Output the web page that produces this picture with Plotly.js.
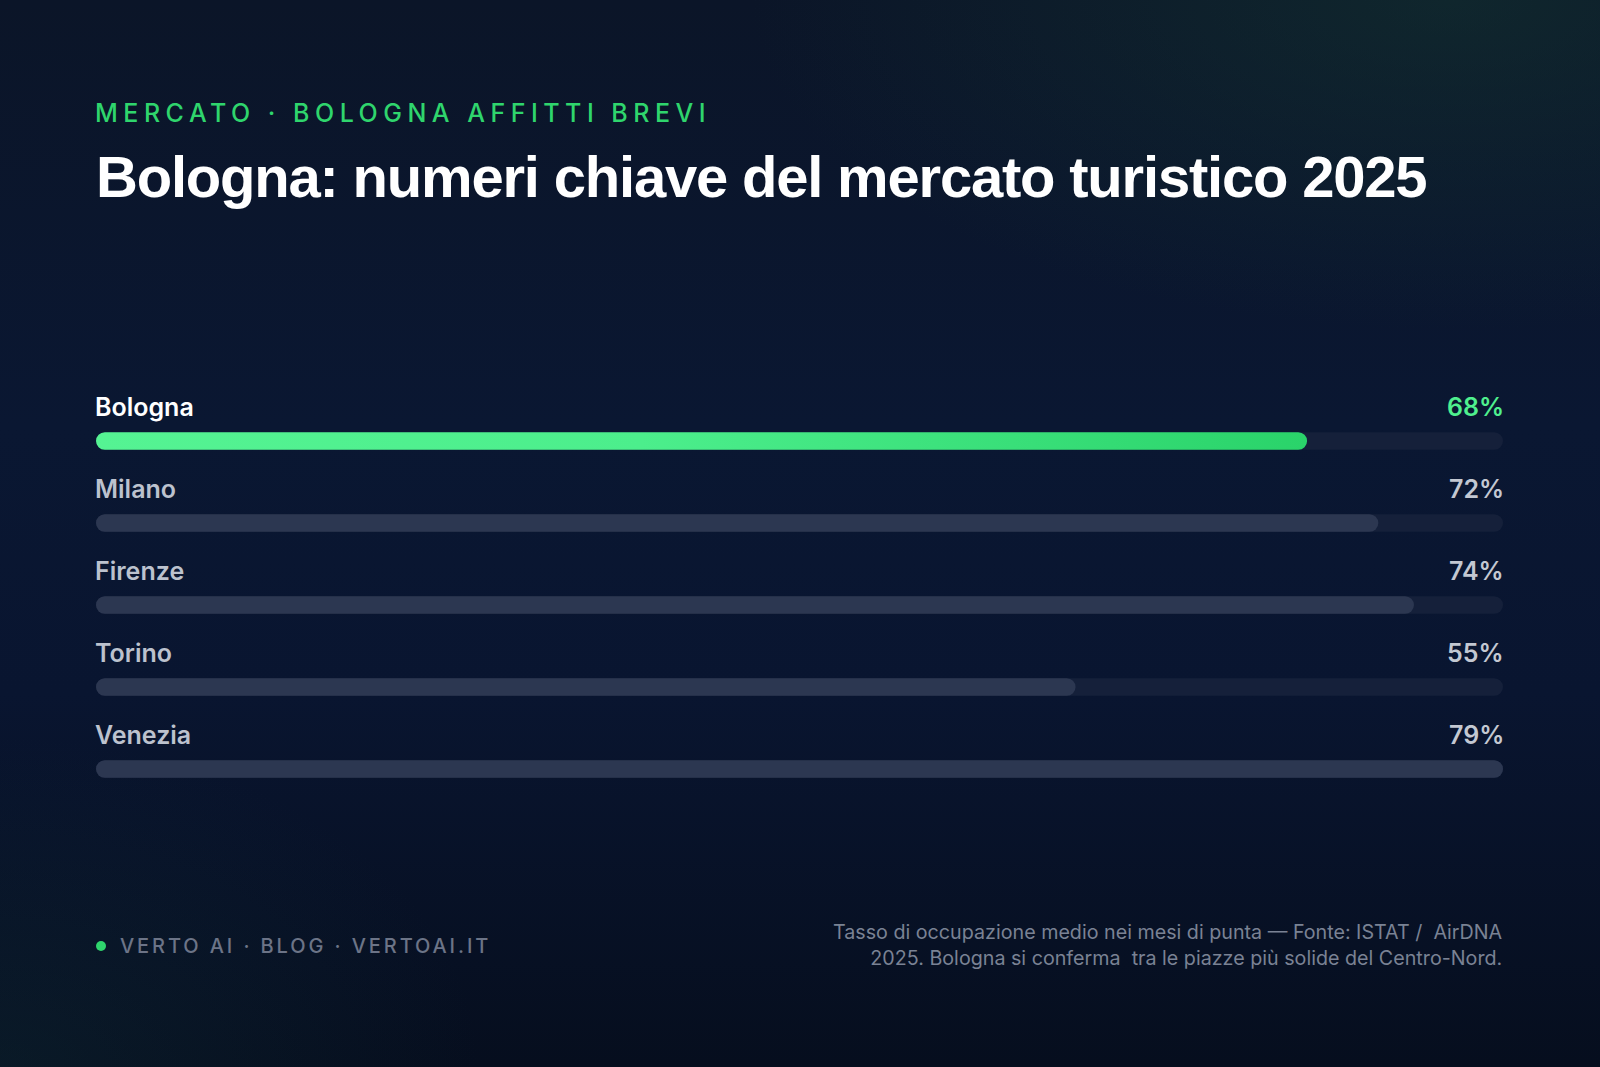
<!DOCTYPE html>
<html>
<head>
<meta charset="utf-8">
<script src="https://cdn.plot.ly/plotly-3.0.1.min.js"></script>
<style>
  html, body { margin: 0; padding: 0; width: 1600px; height: 1067px; overflow: hidden; }
  body {
    background:
      radial-gradient(ellipse 700px 330px at 1450px 0px, rgba(22, 62, 52, 0.42), rgba(22, 62, 52, 0) 100%),
      radial-gradient(ellipse 480px 330px at 0px 1067px, rgba(18, 52, 60, 0.30), rgba(18, 52, 60, 0) 100%),
      linear-gradient(180deg, #0b1528 0%, #0a1732 40%, #091530 65%, #060e1e 100%);
  }
  #chart { width: 1600px; height: 1067px; }
</style>
</head>
<body>
<div id="chart"></div>
<script>
const cities = ['Bologna', 'Milano', 'Firenze', 'Torino', 'Venezia'];
const occupancy = [68, 72, 74, 55, 79];
const valueLabels = ['68%', '72%', '74%', '55%', '79%'];
const highlightCity = 'Bologna';

const eyebrow = 'MERCATO · BOLOGNA AFFITTI BREVI';
const titleText = 'Bologna: numeri chiave del mercato turistico 2025';
const footerLeft = 'VERTO AI · BLOG · VERTOAI.IT';
const footerRight = 'Tasso di occupazione medio nei mesi di punta — Fonte: ISTAT /  AirDNA<br>2025. Bologna si conferma  tra le piazze più solide del Centro-Nord.';

const maxVal = Math.max(...occupancy);
const BAR_W = 0.215;

const trackTrace = {
  type: 'bar', orientation: 'h',
  y: cities, x: cities.map(() => maxVal),
  width: BAR_W, yaxis: 'y',
  marker: { color: '#15203a', line: { width: 0 } },
  hoverinfo: 'skip', showlegend: false
};
const valueTrace = {
  type: 'bar', orientation: 'h',
  y: cities, x: occupancy,
  width: BAR_W, yaxis: 'y2',
  marker: {
    color: cities.map(c => c === highlightCity ? '#3fe27e' : '#2c3751'),
    line: { width: 0 }
  },
  hoverinfo: 'skip', showlegend: false
};

const LABEL_FONT = 'Inter, "Noto Sans", sans-serif';
const annotations = [];
cities.forEach((c, i) => {
  const hl = c === highlightCity;
  annotations.push({
    xref: 'paper', yref: 'y', x: 0, y: c, xanchor: 'left', yanchor: 'middle', yshift: 34, xshift: -3,
    text: c, showarrow: false,
    font: { family: LABEL_FONT, size: 25, weight: 600, color: hl ? '#ffffff' : '#bcc2ce' }
  });
  annotations.push({
    xref: 'paper', yref: 'y', x: 1, y: c, xanchor: 'right', yanchor: 'middle', yshift: 34, xshift: 3,
    text: valueLabels[i], showarrow: false,
    font: { family: LABEL_FONT, size: 25, weight: 600, color: hl ? '#4ff08e' : '#c3c8d2' }
  });
});

annotations.push({
  xref: 'paper', yref: 'paper', x: 0, y: 1.5, xanchor: 'left', yanchor: 'middle', xshift: -3,
  text: eyebrow, showarrow: false,
  font: { family: LABEL_FONT, size: 25, weight: 500, color: '#2fd56d' }
});
annotations.push({
  xref: 'paper', yref: 'paper', x: 24 / 1407, y: -0.193, xanchor: 'left', yanchor: 'middle', xshift: -2,
  text: footerLeft, showarrow: false,
  font: { family: LABEL_FONT, size: 20, weight: 500, color: '#6c7487' }
});
annotations.push({
  xref: 'paper', yref: 'paper', x: 1, y: -0.192, xanchor: 'right', yanchor: 'middle', align: 'right', xshift: 2,
  text: footerRight, showarrow: false,
  font: { family: LABEL_FONT, size: 19.7, weight: 400, color: '#7a8294' }
});

const yCommon = { type: 'category', categoryarray: cities, range: [5, -1], showgrid: false, zeroline: false, showticklabels: false, showline: false, fixedrange: true };

const layout = {
  width: 1600, height: 1067,
  margin: { l: 96, r: 97, t: 359, b: 216 },
  paper_bgcolor: 'rgba(0,0,0,0)', plot_bgcolor: 'rgba(0,0,0,0)',
  barmode: 'group',
  showlegend: false,
  hovermode: false,
  title: {
    text: titleText,
    xref: 'container', yref: 'container',
    x: 96 / 1600, xanchor: 'left', y: 1 - 177 / 1067, yanchor: 'middle',
    font: { family: '"Liberation Sans", Arial, sans-serif', size: 58, weight: 700, color: '#ffffff' }
  },
  xaxis: { range: [0, maxVal], showgrid: false, zeroline: false, showticklabels: false, showline: false, fixedrange: true },
  yaxis: yCommon,
  yaxis2: Object.assign({}, yCommon, { overlaying: 'y' }),
  shapes: [{
    type: 'circle', xref: 'paper', yref: 'paper',
    xsizemode: 'pixel', ysizemode: 'pixel',
    xanchor: 5 / 1407, yanchor: -0.193,
    x0: -5, x1: 5, y0: -5, y1: 5,
    fillcolor: '#2fd56d', line: { width: 0 }
  }],
  annotations: annotations
};

function spaceText(t, px) {
  const bb = t.getBBox();
  t.style.letterSpacing = px + 'px';
  t.setAttribute('text-anchor', 'start');
  t.setAttribute('x', bb.x);
}

function roundBar(p) {
  const bb = p.getBBox();
  if (bb.width <= 0 || bb.height <= 0) return;
  const r = Math.min(bb.height / 2, bb.width / 2);
  const x = bb.x, y = bb.y, w = bb.width, h = bb.height;
  p.setAttribute('d',
    'M' + (x + r) + ',' + y +
    'H' + (x + w - r) +
    'A' + r + ',' + r + ' 0 0 1 ' + (x + w - r) + ',' + (y + h) +
    'H' + (x + r) +
    'A' + r + ',' + r + ' 0 0 1 ' + (x + r) + ',' + y + 'Z');
}

function decorate() {
  const gd = document.getElementById('chart');
  const svg = gd.querySelector('svg.main-svg');
  if (!svg) return;
  let defs = svg.querySelector('defs');
  if (!defs) { defs = document.createElementNS('http://www.w3.org/2000/svg', 'defs'); svg.prepend(defs); }
  if (!svg.querySelector('#hlgrad')) {
    const g = document.createElementNS('http://www.w3.org/2000/svg', 'linearGradient');
    g.setAttribute('id', 'hlgrad');
    g.setAttribute('x1', '0'); g.setAttribute('x2', '1'); g.setAttribute('y1', '0'); g.setAttribute('y2', '0');
    [['0', '#55f393'], ['0.45', '#4cee8c'], ['1', '#2ad36a']].forEach(([o, c]) => {
      const s = document.createElementNS('http://www.w3.org/2000/svg', 'stop');
      s.setAttribute('offset', o); s.setAttribute('stop-color', c); g.appendChild(s);
    });
    defs.appendChild(g);
  }
  const idx = cities.indexOf(highlightCity);
  gd.querySelectorAll('.barlayer .trace').forEach(tr => {
    const pts = tr.querySelectorAll('.point path');
    pts.forEach(roundBar);
    if (pts.length && pts[idx] && pts[idx].style.fill && pts[idx].style.fill.indexOf('63, 226, 126') >= 0) {
      pts[idx].style.fill = 'url(#hlgrad)';
    }
  });
  gd.querySelectorAll('.infolayer .annotation-text').forEach(t => {
    const txt = t.textContent;
    if (txt === eyebrow) spaceText(t, 5.5);
    if (txt === footerLeft) spaceText(t, 2.9);
  });
  const tt = gd.querySelector('.gtitle');
  if (tt) tt.style.letterSpacing = '-1.2px';
}

Plotly.newPlot('chart', [trackTrace, valueTrace], layout, { displayModeBar: false, staticPlot: true }).then(decorate);
</script>
</body>
</html>
